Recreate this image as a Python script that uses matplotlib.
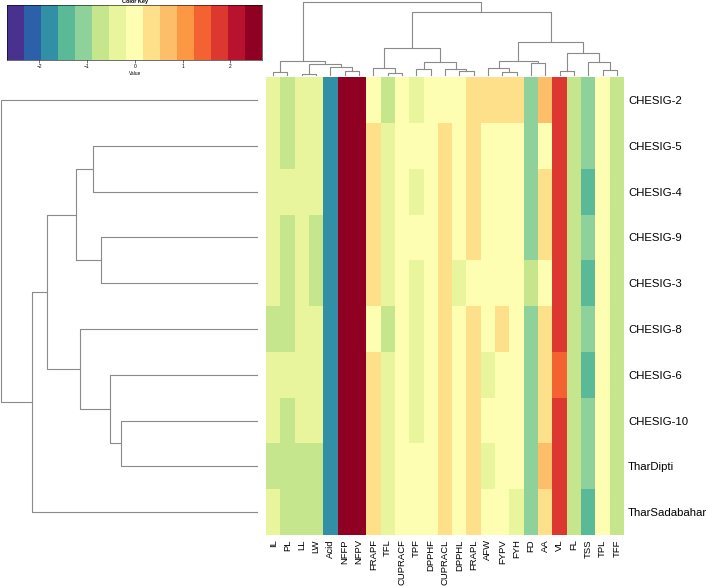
import numpy as np
import matplotlib.pyplot as plt
from matplotlib.colors import ListedColormap, BoundaryNorm

plt.rcParams['font.family'] = ['Liberation Sans', 'DejaVu Sans']

# --- data ---
row_labels = ["CHESIG-2", "CHESIG-5", "CHESIG-4", "CHESIG-9", "CHESIG-3",
              "CHESIG-8", "CHESIG-6", "CHESIG-10", "TharDipti", "TharSadabahar"]
col_labels = ["IL", "PL", "LL", "LW", "Acid", "NFFP", "NFPV", "FRAPF", "TFL",
              "CUPRACF", "TPF", "DPPHF", "CUPRACL", "DPPHL", "FRAPL", "AFW",
              "FYPV", "FYH", "FD", "AA", "VL", "FL", "TSS", "TPL", "TFF"]

# scaled values, one list per column (rows top -> bottom)
IL      = [-0.36, -0.35, -0.38, -0.34, -0.36, -0.72, -0.37, -0.35, -0.70, -0.36]
PL      = [-0.71, -0.73, -0.36, -0.70, -0.72, -0.71, -0.35, -0.74, -0.69, -0.71]
LL      = [-0.37, -0.36, -0.35, -0.38, -0.36, -0.34, -0.37, -0.36, -0.73, -0.71]
LW      = [-0.35, -0.37, -0.36, -0.72, -0.70, -0.36, -0.38, -0.35, -0.71, -0.74]
Acid    = [-1.80, -1.77, -1.79, -1.78, -1.76, -1.80, -1.78, -1.79, -1.77, -1.78]
NFFP    = [2.50, 2.48, 2.49, 2.51, 2.47, 2.50, 2.49, 2.48, 2.50, 2.49]
NFPV    = [2.49, 2.50, 2.48, 2.49, 2.51, 2.48, 2.50, 2.49, 2.47, 2.50]
FRAPF   = [0.02, 0.37, 0.35, 0.36, 0.38, 0.01, 0.36, 0.34, 0.37, 0.35]
TFL     = [-0.70, -0.36, -0.37, -0.35, -0.36, -0.72, -0.34, -0.36, -0.37, -0.35]
CUPRACF = [0.01, -0.02, 0.03, 0.00, 0.02, -0.01, 0.01, 0.02, -0.03, 0.00]
TPF     = [-0.35, 0.02, -0.37, 0.01, -0.36, -0.34, -0.36, -0.38, 0.03, -0.01]
DPPHF   = [0.03, 0.01, -0.02, 0.02, 0.00, 0.01, -0.01, 0.02, 0.01, 0.03]
CUPRACL = [0.02, 0.36, 0.37, 0.35, 0.38, 0.36, 0.34, 0.37, 0.36, 0.35]
DPPHL   = [0.01, 0.03, 0.02, -0.01, -0.36, 0.00, 0.02, 0.01, -0.02, 0.03]
FRAPL   = [0.37, 0.35, 0.36, 0.38, 0.02, 0.36, 0.37, 0.35, 0.34, 0.36]
AFW     = [0.36, 0.01, 0.02, -0.01, 0.03, 0.00, -0.35, 0.02, -0.37, 0.01]
FYPV    = [0.35, 0.02, 0.00, 0.03, 0.01, 0.37, -0.02, 0.01, 0.02, 0.00]
FYH     = [0.38, -0.01, 0.02, 0.01, 0.00, 0.03, 0.02, -0.02, 0.01, -0.36]
FD      = [-1.07, -1.06, -1.09, -1.05, -0.72, -1.08, -1.06, -1.07, -1.05, -1.08]
AA      = [0.72, 0.02, 0.36, 0.37, 0.01, 0.35, 0.38, 0.36, 0.70, 0.37]
VL      = [1.78, 1.80, 1.77, 1.79, 1.76, 1.78, 1.43, 1.79, 1.77, 1.80]
FL      = [-0.71, -0.72, -0.70, -0.73, -0.71, -0.69, -0.72, -0.71, -0.70, -0.72]
TSS     = [-1.06, -1.08, -1.43, -1.07, -1.41, -1.05, -1.42, -1.08, -1.06, -1.44]
TPL     = [0.00, 0.02, 0.01, -0.02, 0.03, 0.01, 0.00, 0.02, -0.01, 0.01]
TFF     = [-0.72, -0.70, -0.71, -0.73, -0.69, -0.72, -0.71, -0.70, -0.72, -0.71]

columns = [IL, PL, LL, LW, Acid, NFFP, NFPV, FRAPF, TFL, CUPRACF, TPF, DPPHF,
           CUPRACL, DPPHL, FRAPL, AFW, FYPV, FYH, FD, AA, VL, FL, TSS, TPL, TFF]
values = np.array(columns).T

# dendrogram merges: (node a, node b, height); leaves are display positions
col_merges = [(0, 1, 2.7), (2, 3, 1.0), (5, 6, 4.3), (4, 27, 8.3), (26, 28, 10.7),
              (25, 29, 14.3), (8, 9, 1.7), (7, 31, 6.7), (10, 11, 5.7), (13, 14, 4.3),
              (12, 34, 6.0), (33, 35, 12.7), (32, 36, 27.3), (16, 17, 2.7), (15, 38, 6.7),
              (18, 19, 11.7), (39, 40, 13.7), (20, 21, 4.0), (23, 24, 5.0), (22, 43, 13.3),
              (42, 44, 22.3), (41, 45, 33.3), (37, 46, 63.3), (30, 47, 73.3)]
row_merges = [(1, 2, 163.7), (3, 4, 155.7), (10, 11, 180.3), (7, 8, 136.0),
              (6, 13, 147.0), (5, 14, 177.0), (12, 15, 209.7), (16, 9, 225.0),
              (0, 17, 256.0)]

breaks = np.linspace(-2.67, 2.67, 16)
key_colors = ["#49328f", "#2c60a8", "#3290a6", "#5aba98", "#8ed19a", "#c5e68d",
              "#e8f59d", "#fefeb2", "#fee08b", "#fdbe69", "#fc9843", "#f36230",
              "#dd382f", "#b8122e", "#8f0022"]
cmap = ListedColormap(key_colors)
norm = BoundaryNorm(breaks, cmap.N)

W, H = 708, 586
fig = plt.figure(figsize=(W / 100, H / 100), dpi=100)


def px_axes(x0, y0, x1, y1):
    return fig.add_axes([x0 / W, 1 - y1 / H, (x1 - x0) / W, (y1 - y0) / H])


def draw_dendro(ax, merges, n, horizontal):
    pos = {i: i + 0.5 for i in range(n)}
    hgt = {i: 0.0 for i in range(n)}
    for k, (a, b, h) in enumerate(merges):
        xs = [pos[a], pos[a], pos[b], pos[b]]
        ys = [hgt[a], h, h, hgt[b]]
        if horizontal:
            ax.plot(xs, ys, color="#8a8a8a", lw=0.8, clip_on=False)
        else:
            ax.plot(ys, xs, color="#8a8a8a", lw=0.8, clip_on=False)
        pos[n + k] = (pos[a] + pos[b]) / 2
        hgt[n + k] = h
    ax.set_axis_off()


nr, nc = values.shape
hx0, hy0, hx1, hy1 = 266, 77.3, 624, 535

# heatmap
ax = px_axes(hx0, hy0, hx1, hy1)
ax.pcolormesh(np.arange(nc + 1), np.arange(nr + 1), values, cmap=cmap, norm=norm)
ax.set_xlim(0, nc)
ax.set_ylim(nr, 0)
ax.set_xticks(np.arange(nc) + 0.5)
ax.set_xticklabels(col_labels, rotation=90, fontsize=6.8)
ax.set_yticks(np.arange(nr) + 0.5)
ax.set_yticklabels(row_labels, fontsize=8.2)
ax.yaxis.tick_right()
ax.tick_params(axis="both", length=0)
ax.tick_params(axis="x", pad=3)
ax.tick_params(axis="y", pad=3)
for s in ax.spines.values():
    s.set_visible(False)

# column dendrogram
axc = px_axes(hx0, 0, hx1, hy0)
draw_dendro(axc, col_merges, nc, True)
axc.set_xlim(0, nc)
axc.set_ylim(-2.3, 75.0)

# row dendrogram
axr = px_axes(0, hy0, hx0, hy1)
draw_dendro(axr, row_merges, nr, False)
axr.set_ylim(nr, 0)
axr.set_xlim(256.5, -9.5)

# color key
axk = px_axes(7.3, 5, 262.3, 60)
axk.pcolormesh(breaks, [0, 1], (breaks[:-1] + np.diff(breaks) / 2)[None, :],
               cmap=cmap, norm=norm)
axk.set_xlim(breaks[0], breaks[-1])
axk.set_ylim(0, 1)
axk.set_yticks([])
axk.set_xticks([-2, -1, 0, 1, 2])
axk.tick_params(axis="x", labelsize=3.5, length=2, width=0.4, pad=1)
axk.set_xlabel("Value", fontsize=3.5, labelpad=1)
axk.set_title("Color Key", fontsize=4, fontweight="bold", pad=1.5)
for s in axk.spines.values():
    s.set_linewidth(0.4)

fig.savefig("out.png", dpi=100)
